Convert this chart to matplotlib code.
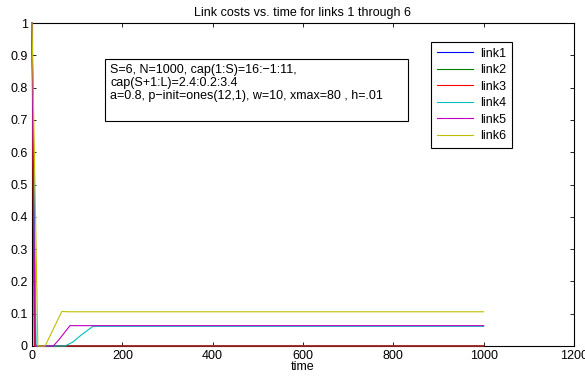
import matplotlib
matplotlib.use("Agg")
import matplotlib.pyplot as plt
from matplotlib.patches import Rectangle

plt.rcParams['font.family'] = ['Liberation Sans', 'DejaVu Sans']

labels = ["link1", "link2", "link3", "link4", "link5", "link6"]
colors = [(0, 0, 1), (0, 0.5, 0), (1, 0, 0), (0, 0.75, 0.75), (0.75, 0, 0.75), (0.75, 0.75, 0)]

t1 = [0, 8, 1000];   v1 = [1, 0, 0]
t2 = [0, 6, 1000];   v2 = [1, 0, 0]
t3 = [0, 5, 1000];   v3 = [1, 0, 0]
t4 = [0, 9, 73, 90, 110, 135, 1000];  v4 = [1, 0, 0, 0.012, 0.035, 0.061, 0.061]
t5 = [0, 7, 47, 60, 84, 1000];        v5 = [1, 0, 0, 0.02, 0.063, 0.063]
t6 = [0, 13, 29, 66, 80, 1000];       v6 = [1, 0, 0, 0.107, 0.106, 0.106]

times = [t1, t2, t3, t4, t5, t6]
vals = [v1, v2, v3, v4, v5, v6]

info_text = ("S=6, N=1000, cap(1:S)=16:\u22121:11,\n"
             "cap(S+1:L)=2.4:0.2:3.4\n"
             "a=0.8, p\u2212init=ones(12,1), w=10, xmax=80 , h=.01")

fig = plt.figure(figsize=(5.85, 3.79), dpi=100)
ax = fig.add_axes([32/585, 33/379, 542/585, 323/379])

for t, v, c, lab in zip(times, vals, colors, labels):
    ax.plot(t, v, color=c, lw=0.8, label=lab, zorder=3, clip_on=False)

ax.set_xlim(0, 1200)
ax.set_ylim(0, 1)
ax.set_xticks([0, 200, 400, 600, 800, 1000, 1200])
ax.set_yticks([0, 0.1, 0.2, 0.3, 0.4, 0.5, 0.6, 0.7, 0.8, 0.9, 1])
ax.set_yticklabels(["0", "0.1", "0.2", "0.3", "0.4", "0.5", "0.6", "0.7", "0.8", "0.9", "1"])
ax.tick_params(direction='in', top=True, right=True, labelsize=9, length=3, width=0.6, pad=3)
for s in ax.spines.values():
    s.set_linewidth(0.8)

ax.set_title("Link costs vs. time for links 1 through 6", fontsize=9, pad=5)
ax.set_xlabel("time", fontsize=9, labelpad=-1)

rect = Rectangle((0.135, 0.697), 0.559, 0.192, transform=ax.transAxes,
                 facecolor='white', edgecolor='black', lw=0.8, zorder=5)
ax.add_patch(rect)
ax.text(0.144, 0.874, info_text, transform=ax.transAxes, fontsize=9,
        va='top', ha='left', linespacing=1.12, zorder=6)

leg = ax.legend(loc='upper left', bbox_to_anchor=(0.736, 0.941), fontsize=9,
                fancybox=False, framealpha=1, edgecolor='black',
                handlelength=2.9, labelspacing=0.36, borderpad=0.45,
                handletextpad=0.6, borderaxespad=0)
leg.get_frame().set_linewidth(0.8)
leg.set_zorder(7)

fig.savefig("out.png", dpi=100)
